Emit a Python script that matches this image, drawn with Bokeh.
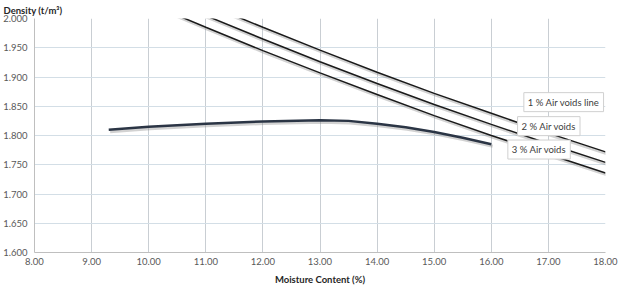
from bokeh.plotting import figure
from bokeh.models import Range1d, FixedTicker, NumeralTickFormatter, Label
from bokeh.embed import file_html
from bokeh.resources import INLINE

# ---- data ----
curve_moisture = [9.3, 10.0, 11.0, 12.0, 13.0, 13.5, 14.0, 14.5, 15.0, 15.5, 16.0]
curve_density = [1.810, 1.815, 1.820, 1.824, 1.826, 1.825, 1.820, 1.814, 1.806, 1.796, 1.785]

voids_moisture = [10.0, 11.0, 12.0, 13.0, 14.0, 15.0, 16.0, 17.0, 18.0]
voids_1 = [2.068, 2.025, 1.985, 1.946, 1.908, 1.872, 1.838, 1.804, 1.772]
voids_2 = [2.047, 2.005, 1.965, 1.926, 1.889, 1.853, 1.819, 1.786, 1.754]
voids_3 = [2.026, 1.985, 1.945, 1.907, 1.870, 1.834, 1.800, 1.768, 1.736]

voids_labels = ["1 % Air voids line", "2 % Air voids", "3 % Air voids"]
label_x = [16.57, 16.46, 16.29]
label_y = [1.857, 1.816, 1.776]

x_ticks = [8, 9, 10, 11, 12, 13, 14, 15, 16, 17, 18]
y_ticks = [1.60, 1.65, 1.70, 1.75, 1.80, 1.85, 1.90, 1.95, 2.00]

FONT = "Lato"

p = figure(width=630, height=302, output_backend="svg", toolbar_location=None,
           x_range=Range1d(8, 18), y_range=Range1d(1.6, 2.0),
           min_border_left=32, min_border_right=25, min_border_top=18, min_border_bottom=50,
           title="Density (t/m³)")
p.outline_line_color = None
p.background_fill_color = "white"
p.title.align = "left"
p.title.offset = -31
p.title.standoff = 5
p.title.text_font = FONT
p.title.text_font_size = "9.5px"
p.title.text_font_style = "bold"
p.title.text_color = "#262626"

# shadows
sx, sy = 0.025, -0.0035
for ys in (voids_1, voids_2, voids_3):
    p.line([m + sx for m in voids_moisture], [v + sy for v in ys],
           line_color="#7f7f7f", line_width=2.5, line_alpha=0.35)
p.line([m + sx for m in curve_moisture], [v + sy for v in curve_density],
       line_color="#7f7f7f", line_width=3, line_alpha=0.35)

for ys in (voids_1, voids_2, voids_3):
    p.line(voids_moisture, ys, line_color="#1a1a1a", line_width=1.5)
p.line(curve_moisture, curve_density, line_color="#2b3545", line_width=2.5)

for t, lx, ly in zip(voids_labels, label_x, label_y):
    p.add_layout(Label(x=lx, y=ly, text=t, text_font=FONT, text_font_size="9.5px",
                       text_color="#404040", text_baseline="middle",
                       background_fill_color="white", border_line_color="#d0d0d0",
                       padding=4))

p.xaxis.ticker = FixedTicker(ticks=x_ticks)
p.yaxis.ticker = FixedTicker(ticks=y_ticks)
p.xaxis.formatter = NumeralTickFormatter(format="0.00")
p.yaxis.formatter = NumeralTickFormatter(format="0.000")
for ax in (p.xaxis, p.yaxis):
    ax.major_tick_out = 0
    ax.major_tick_in = 0
    ax.minor_tick_out = 0
    ax.minor_tick_in = 0
    ax.axis_line_color = "#bfbfbf"
    ax.major_label_text_font = FONT
    ax.major_label_text_font_size = "9.5px"
    ax.major_label_text_color = "#595959"
p.yaxis.major_label_standoff = 7
p.xaxis.major_label_standoff = 5
p.xaxis.axis_label = "Moisture Content (%)"
p.xaxis.axis_label_text_font = FONT
p.xaxis.axis_label_text_font_size = "9.5px"
p.xaxis.axis_label_text_font_style = "bold"
p.xaxis.axis_label_text_color = "#262626"
p.xaxis.axis_label_standoff = 6

p.xgrid.grid_line_color = "#c9ced3"
p.ygrid.grid_line_color = "#d3dee6"

open("out.html", "w").write(file_html(p, INLINE))
